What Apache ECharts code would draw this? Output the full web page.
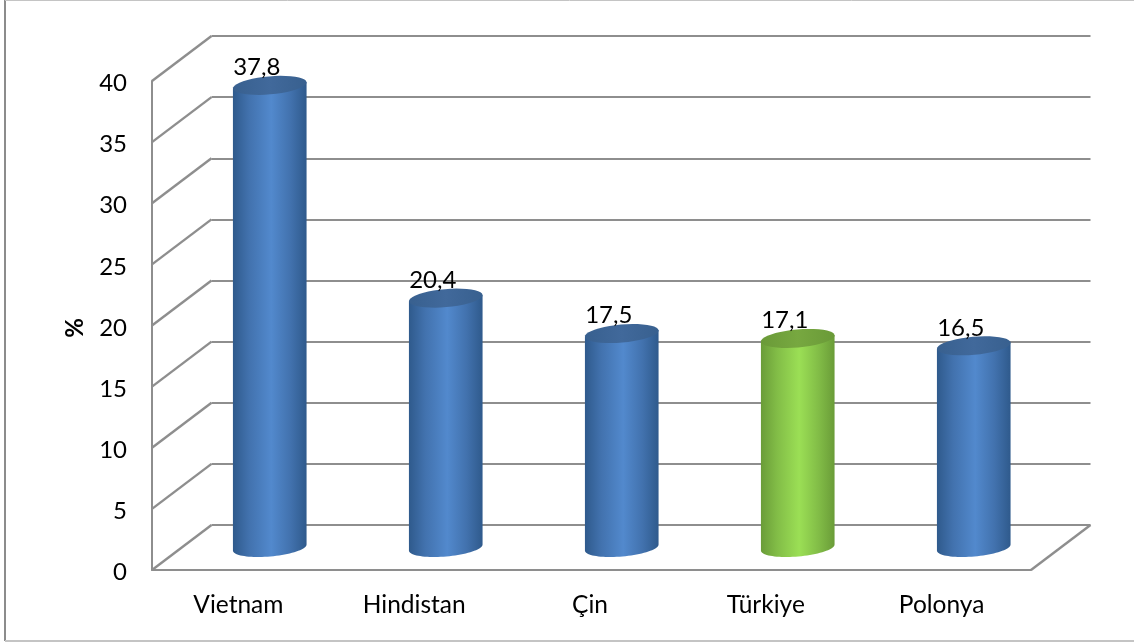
<!DOCTYPE html>
<html>
<head>
<meta charset="utf-8">
<style>html,body{margin:0;padding:0;background:#fff}#c{width:1134px;height:643px}</style>
<script src="https://cdn.jsdelivr.net/npm/echarts@6/dist/echarts.min.js"></script>
</head>
<body>
<div id="c"></div>
<script>
const categories = ['Vietnam', 'Hindistan', 'Çin', 'Türkiye', 'Polonya'];
const values = [37.8, 20.4, 17.5, 17.1, 16.5];
const valueLabels = ['37,8', '20,4', '17,5', '17,1', '16,5'];
const highlighted = ['Türkiye'];
const yTicks = [0, 5, 10, 15, 20, 25, 30, 35, 40];

const FONT = 'Lato, Carlito, "Open Sans", sans-serif';
const LINE = '#8e8e8e';
const FRONT = { left: 152, top: 81, width: 879, height: 489 };
const DEPTH_X = 59.5, DEPTH_Y = -45;
const BAR_RATIO = 0.42, ELLIPSE_RY = 9, TILT = 5 * Math.PI / 180, STEPS = 40;

const blue = { edge: '#2f5a8c', shade: '#4272ae', mid: '#5289cd', top: '#41699b', topEdge: '#38608f' };
const green = { edge: '#6a9c38', shade: '#82bd47', mid: '#9bdf55', top: '#77a840', topEdge: '#6a9a38' };

function gridAt(f, extraWidth, extraTop) {
  return { left: FRONT.left + DEPTH_X * f, top: FRONT.top + DEPTH_Y * f + (extraTop || 0), width: FRONT.width + (extraWidth || 0), height: FRONT.height };
}
function ellipsePoint(c, rx, t) {
  const x = rx * Math.cos(t), y = ELLIPSE_RY * Math.sin(t);
  return [c[0] + x * Math.cos(TILT) + y * Math.sin(TILT), c[1] - x * Math.sin(TILT) + y * Math.cos(TILT)];
}
function arc(c, rx, from, to) {
  const pts = [];
  for (let k = 0; k <= STEPS; k++) pts.push(ellipsePoint(c, rx, from + (to - from) * k / STEPS));
  return pts;
}
function renderBar(params, api) {
  const i = api.value(0), v = api.value(1);
  const top = api.coord([i, v]), base = api.coord([i, 0]);
  const rx = api.size([1, 0])[0] * BAR_RATIO / 2;
  const c = highlighted.includes(categories[i]) ? green : blue;
  const grad = (stops) => ({ type: 'linear', x: 0, y: 0, x2: 1, y2: 0, colorStops: stops });
  const body = [ellipsePoint(top, rx, Math.PI)].concat(arc(base, rx, Math.PI, 0), [ellipsePoint(top, rx, 0)]);
  const cap = arc(top, rx, 0, 2 * Math.PI);
  return {
    type: 'group',
    children: [
      { type: 'polygon', shape: { points: body },
        style: { fill: grad([{ offset: 0, color: c.edge }, { offset: 0.22, color: c.shade }, { offset: 0.52, color: c.mid }, { offset: 0.78, color: c.shade }, { offset: 1, color: c.edge }]) } },
      { type: 'polygon', shape: { points: cap },
        style: { fill: grad([{ offset: 0, color: c.topEdge }, { offset: 0.5, color: c.top }, { offset: 1, color: c.topEdge }]) } },
      { type: 'text', style: { text: valueLabels[i], x: top[0] - 13, y: top[1] - 18, textAlign: 'center', textVerticalAlign: 'middle', font: `24px ${FONT}`, fill: '#000' } }
    ]
  };
}
function renderDiagonal(params, api) {
  const i = api.value(0), v = api.value(1), side = api.value(2);
  const p = api.coord([i, v]);
  const x = p[0] + side * api.size([1, 0])[0] / 2;
  return { type: 'line', shape: { x1: x, y1: p[1], x2: x + DEPTH_X, y2: p[1] + DEPTH_Y }, style: { stroke: LINE, lineWidth: 2.4 } };
}
const diagonals = yTicks.map(t => [0, t, -1]).concat([[categories.length - 1, 0, 1]]);
const hiddenX = (g) => ({ gridIndex: g, type: 'category', data: categories, show: false });
const hiddenY = (g) => ({ gridIndex: g, type: 'value', min: 0, max: 40, interval: 5, show: false });

const chart = echarts.init(document.getElementById('c'), null, { renderer: 'canvas' });
chart.setOption({
  animation: false,
  backgroundColor: '#fff',
  graphic: [
    { type: 'line', shape: { x1: 5, y1: 0, x2: 5, y2: 641 }, style: { stroke: '#8c8c8c', lineWidth: 2 }, silent: true },
    { type: 'line', shape: { x1: 5, y1: 0.5, x2: 1134, y2: 0.5 }, style: { stroke: '#c4c4c4', lineWidth: 1 }, silent: true },
    { type: 'line', shape: { x1: 5, y1: 641, x2: 1134, y2: 641 }, style: { stroke: '#c4c4c4', lineWidth: 2 }, silent: true }
  ],
  grid: [gridAt(0), gridAt(1), gridAt(0.5, 1), gridAt(0, 0, 2.5)],
  xAxis: [
    { gridIndex: 0, type: 'category', data: categories, axisTick: { show: false },
      axisLine: { lineStyle: { color: LINE, width: 2 } },
      axisLabel: { color: '#000', fontFamily: FONT, fontSize: 24.5, margin: 23, padding: [0, 3, 0, 0] } },
    hiddenX(1), hiddenX(2), hiddenX(3)
  ],
  yAxis: [
    { gridIndex: 0, type: 'value', min: 0, max: 40, interval: 5,
      axisLine: { show: true, lineStyle: { color: LINE, width: 2 } }, axisTick: { show: false }, splitLine: { show: false },
      axisLabel: { show: false } },
    { gridIndex: 1, type: 'value', min: 0, max: 40, interval: 5, axisLabel: { show: false }, axisLine: { show: false }, axisTick: { show: false },
      splitLine: { show: true, lineStyle: { color: LINE, width: 2 } } },
    hiddenY(2),
    { gridIndex: 3, type: 'value', min: 0, max: 40, interval: 5,
      axisLine: { show: false }, axisTick: { show: false }, splitLine: { show: false },
      axisLabel: { color: '#000', fontFamily: FONT, fontSize: 24, margin: 25 },
      name: '%', nameLocation: 'middle', nameRotate: 90, nameGap: 65,
      nameTextStyle: { color: '#000', fontFamily: FONT, fontSize: 24, fontWeight: 'bold' } }
  ],
  series: [
    { type: 'custom', name: 'walls', xAxisIndex: 0, yAxisIndex: 0, data: diagonals, renderItem: renderDiagonal, silent: true, clip: false, z: 1 },
    { type: 'custom', name: '%', xAxisIndex: 2, yAxisIndex: 2, data: values.map((v, i) => [i, v]), renderItem: renderBar, clip: false, z: 3 }
  ]
});
</script>
</body>
</html>
